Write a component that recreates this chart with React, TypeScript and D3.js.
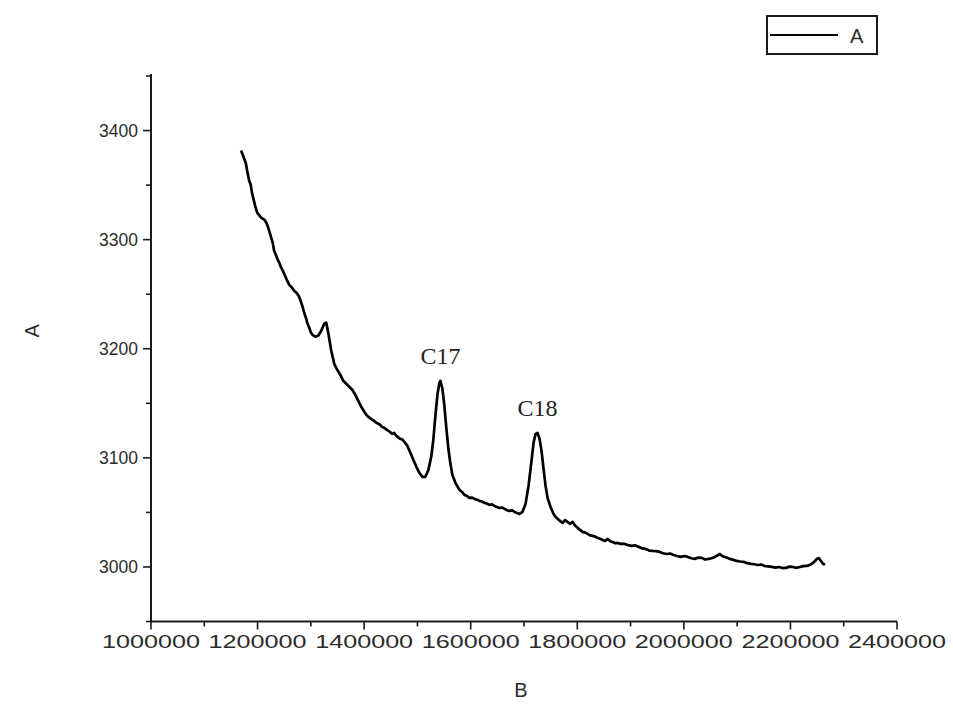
import React from "react";
import * as d3 from "d3";

const seriesName = "A";
const xLabel = "B";
const yLabel = "A";

const xTicks = [1000000, 1200000, 1400000, 1600000, 1800000, 2000000, 2200000, 2400000];
const yTicks = [3000, 3100, 3200, 3300, 3400];

const xValues = [
  1169100, 1174800, 1178000, 1180400, 1184200, 1187000, 1189800, 1193000, 1195400, 1199200,
  1203000, 1206700, 1212400, 1216000, 1218000, 1221700, 1225500, 1228500, 1231100, 1234000,
  1236800, 1240500, 1244300, 1249900, 1252800, 1255600, 1259500, 1263100, 1268700, 1271500,
  1274400, 1278100, 1283800, 1287500, 1291000, 1293200, 1296900, 1300000, 1302600, 1308200,
  1313800, 1319500, 1325100, 1328900, 1332600, 1338300, 1343900, 1349500, 1355200, 1360800,
  1366400, 1372100, 1377700, 1383400, 1389000, 1394600, 1400300, 1404000, 1407800, 1415300,
  1419000, 1422800, 1430300, 1434000, 1437800, 1445400, 1452900, 1456500, 1460400, 1467900,
  1471500, 1475400, 1481100, 1486700, 1492300, 1498000, 1503600, 1509300, 1514900, 1520600,
  1526200, 1530000, 1533700, 1537500, 1541200, 1543100, 1546900, 1550600, 1554400, 1558100,
  1561900, 1565600, 1571300, 1578800, 1584000, 1588200, 1593000, 1597600, 1602000, 1607000,
  1612000, 1616400, 1621000, 1625800, 1630000, 1635200, 1640000, 1644600, 1649000, 1654000,
  1659000, 1663400, 1668000, 1672800, 1678000, 1682200, 1687000, 1691600, 1697200, 1702900,
  1708500, 1714100, 1717900, 1721700, 1725400, 1729200, 1732900, 1736700, 1740500, 1744200,
  1749800, 1755500, 1759000, 1763000, 1768000, 1772400, 1777000, 1781800, 1786000, 1791200,
  1795000, 1800600, 1805000, 1810000, 1815000, 1819400, 1824000, 1828800, 1833000, 1838200,
  1843000, 1847600, 1852000, 1857000, 1862000, 1866300, 1871000, 1875700, 1882000, 1888900,
  1895000, 1902000, 1908000, 1915200, 1922000, 1928300, 1935000, 1941500, 1948000, 1954600,
  1961000, 1967800, 1974000, 1980900, 1987000, 1994100, 2001000, 2007200, 2014000, 2020400,
  2027000, 2033500, 2040000, 2046700, 2052000, 2058000, 2063000, 2067400, 2072000, 2076800,
  2081000, 2086200, 2093000, 2099300, 2106000, 2112500, 2119000, 2125600, 2132000, 2138800,
  2145000, 2151900, 2158000, 2165100, 2172000, 2178300, 2185000, 2191400, 2198000, 2204600,
  2211000, 2217700, 2224000, 2230900, 2237000, 2242200, 2246000, 2249700, 2253500, 2257200,
  2261000, 2264700,
];

const yValues = [
  3381.7, 3374.3, 3370.0, 3363.3, 3354.1, 3350.5, 3342.2, 3336.0, 3331.2, 3324.8,
  3322.5, 3320.2, 3318.4, 3316.0, 3313.8, 3308.3, 3301.8, 3297.0, 3289.9, 3286.5,
  3282.6, 3279.0, 3274.3, 3268.8, 3265.5, 3262.4, 3258.5, 3256.9, 3253.2, 3252.0,
  3250.5, 3247.7, 3239.5, 3233.0, 3228.0, 3223.9, 3219.3, 3215.0, 3212.9, 3211.0,
  3211.9, 3216.5, 3222.9, 3223.9, 3214.7, 3198.2, 3186.2, 3180.7, 3176.2, 3170.6,
  3167.9, 3165.1, 3162.4, 3157.8, 3152.3, 3146.8, 3142.2, 3139.5, 3137.6, 3134.9,
  3133.8, 3132.1, 3130.3, 3128.2, 3127.5, 3124.8, 3122.0, 3122.8, 3120.2, 3117.4,
  3117.0, 3114.7, 3111.0, 3104.6, 3098.2, 3091.8, 3086.3, 3082.6, 3082.6, 3089.0,
  3101.8, 3117.4, 3138.5, 3157.8, 3168.8, 3170.6, 3163.3, 3147.7, 3126.6, 3108.3,
  3094.5, 3084.4, 3077.1, 3070.7, 3068.5, 3066.1, 3065.0, 3063.3, 3063.6, 3062.4,
  3061.5, 3060.6, 3060.0, 3058.7, 3058.2, 3056.9, 3057.3, 3056.0, 3055.0, 3054.1,
  3054.5, 3053.2, 3052.0, 3051.4, 3051.8, 3050.5, 3049.4, 3048.6, 3050.5, 3057.8,
  3074.3, 3097.3, 3113.8, 3122.0, 3122.9, 3117.4, 3106.4, 3089.9, 3074.3, 3063.3,
  3055.0, 3048.6, 3046.0, 3044.1, 3042.0, 3040.4, 3043.0, 3041.3, 3039.5, 3041.3,
  3038.5, 3035.8, 3034.0, 3032.1, 3031.5, 3030.3, 3029.0, 3028.5, 3027.9, 3026.6,
  3025.8, 3024.8, 3023.8, 3025.7, 3023.5, 3022.9, 3021.8, 3022.0, 3021.2, 3021.1,
  3020.0, 3019.3, 3019.8, 3018.4, 3017.0, 3016.5, 3015.0, 3014.7, 3014.5, 3013.8,
  3012.6, 3011.9, 3012.3, 3011.0, 3010.0, 3009.2, 3010.0, 3009.2, 3008.0, 3007.4,
  3008.6, 3008.3, 3006.8, 3007.4, 3008.0, 3009.2, 3010.5, 3011.9, 3010.0, 3009.2,
  3008.5, 3007.4, 3006.5, 3005.5, 3005.0, 3004.6, 3003.5, 3002.8, 3002.5, 3001.8,
  3002.2, 3000.9, 3000.5, 3000.0, 2999.4, 3000.0, 2999.0, 2999.1, 3000.3, 3000.0,
  2999.2, 3000.0, 3000.8, 3000.9, 3002.0, 3003.7, 3005.5, 3007.4, 3008.0, 3005.5,
  3003.0, 3001.8,
];

const peakLabels = ["C17", "C18"];
const peakX = [1543100, 1725400];
const peakY = [3170.6, 3122.9];

const W = 953;
const H = 704;
const left = 151;
const right = 897;
const top = 76;
const bottom = 621.5;

export default function App() {
  const x = d3.scaleLinear().domain([1000000, 2400000]).range([left, right]);
  const y = d3.scaleLinear().domain([2950, 3450]).range([bottom, top]);
  const pts: [number, number][] = xValues.map((v, i) => [v, yValues[i]]);
  const line = d3
    .line<[number, number]>()
    .x((d) => x(d[0]))
    .y((d) => y(d[1]));

  const xMinor = d3.range(1100000, 2400000, 200000);
  const yMinor = d3.range(2950, 3451, 100);
  const axisColor = "#1a1a1a";
  const labelColor = "#2b2b2b";
  const sans = "'Liberation Sans', Arial, sans-serif";
  const serif = "'Liberation Serif', 'Times New Roman', serif";

  return (
    <svg
      width={W}
      height={H}
      style={{ position: "absolute", left: 0, top: 0, background: "#fff" }}
    >
      <rect x={0} y={0} width={W} height={H} fill="#fff" />
      {/* axes */}
      <line x1={left} x2={left} y1={top - 2} y2={bottom + 1} stroke={axisColor} strokeWidth={2} />
      <line x1={left - 1} x2={right} y1={bottom} y2={bottom} stroke={axisColor} strokeWidth={2} />
      {yTicks.map((t) => (
        <g key={"yt" + t}>
          <line x1={left - 8} x2={left} y1={y(t)} y2={y(t)} stroke={axisColor} strokeWidth={1.6} />
          <text
            x={left - 13}
            y={y(t)}
            dy="0.36em"
            textAnchor="end"
            fontFamily={sans}
            fontSize={17.5}
            fill={labelColor}
          >
            {t}
          </text>
        </g>
      ))}
      {yMinor.map((t) => (
        <line key={"ym" + t} x1={left - 5} x2={left} y1={y(t)} y2={y(t)} stroke={axisColor} strokeWidth={1.6} />
      ))}
      {xTicks.map((t) => (
        <g key={"xt" + t}>
          <line x1={x(t)} x2={x(t)} y1={bottom} y2={bottom + 8} stroke={axisColor} strokeWidth={1.6} />
          <text
            x={x(t)}
            y={bottom + 26}
            textAnchor="middle"
            fontFamily={sans}
            fontSize={17.5}
            fill={labelColor}
            textLength={98}
            lengthAdjust="spacingAndGlyphs"
          >
            {t}
          </text>
        </g>
      ))}
      {xMinor.map((t) => (
        <line key={"xm" + t} x1={x(t)} x2={x(t)} y1={bottom} y2={bottom + 5} stroke={axisColor} strokeWidth={1.6} />
      ))}
      {/* axis titles */}
      <text
        transform={`translate(32, ${(top + bottom) / 2 - 18}) rotate(-90)`}
        textAnchor="middle"
        dy="0.36em"
        fontFamily={sans}
        fontSize={20}
        fill={labelColor}
      >
        {yLabel}
      </text>
      <text x={(left + right) / 2 - 3} y={697} textAnchor="middle" fontFamily={sans} fontSize={20} fill={labelColor}>
        {xLabel}
      </text>
      {/* data */}
      <path d={line(pts) || ""} fill="none" stroke="#000" strokeWidth={2.7} strokeLinejoin="round" />
      {peakLabels.map((p, i) => (
        <text
          key={p}
          x={x(peakX[i])}
          y={y(peakY[i]) - 17}
          textAnchor="middle"
          fontFamily={serif}
          fontSize={24}
          fill="#222"
        >
          {p}
        </text>
      ))}
      {/* legend */}
      <rect x={767} y={16} width={110} height={38} fill="none" stroke={axisColor} strokeWidth={2} />
      <line x1={770} x2={838} y1={35} y2={35} stroke="#000" strokeWidth={1.8} />
      <text x={850} y={43} fontFamily={sans} fontSize={20} fill={labelColor}>
        {seriesName}
      </text>
    </svg>
  );
}
